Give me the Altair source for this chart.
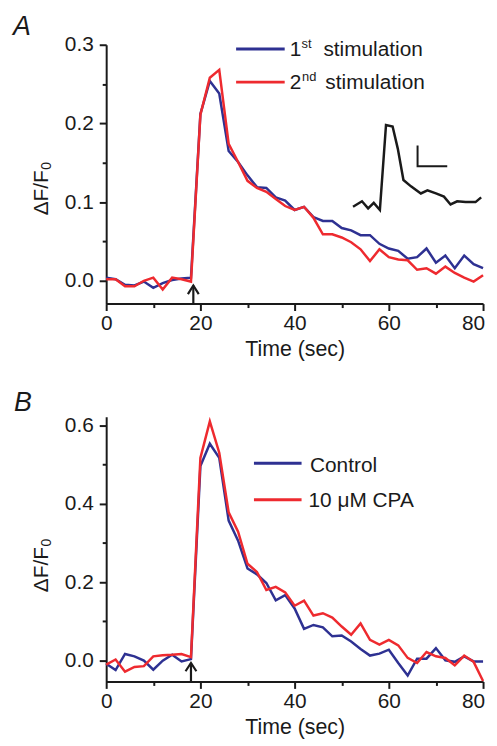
import altair as alt
import pandas as pd

# ---------------- data ----------------
time_s = list(range(0, 81, 2))

a_first = [0.004, 0.002, -0.005, -0.006, -0.001, -0.009, -0.003, 0.001, 0.003, 0.004,
           0.212, 0.254, 0.238, 0.165, 0.151, 0.134, 0.119, 0.118, 0.106, 0.102,
           0.090, 0.094, 0.081, 0.076, 0.076, 0.067, 0.064, 0.058, 0.058, 0.047,
           0.041, 0.038, 0.028, 0.030, 0.041, 0.023, 0.032, 0.016, 0.032, 0.021, 0.016]
a_second = [0.002, 0.002, -0.007, -0.007, 0.000, 0.004, -0.011, 0.004, 0.002, -0.001,
            0.211, 0.258, 0.268, 0.174, 0.151, 0.127, 0.118, 0.113, 0.104, 0.095,
            0.090, 0.094, 0.080, 0.059, 0.059, 0.055, 0.049, 0.040, 0.025, 0.040,
            0.030, 0.027, 0.026, 0.014, 0.016, 0.009, 0.018, 0.010, 0.004, -0.001, 0.007]
b_control = [-0.008, -0.024, 0.017, 0.011, 0.000, -0.023, 0.000, 0.015, -0.002, 0.004,
             0.496, 0.553, 0.517, 0.357, 0.306, 0.235, 0.220, 0.198, 0.154, 0.167,
             0.133, 0.081, 0.091, 0.085, 0.062, 0.064, 0.049, 0.030, 0.013, 0.018,
             0.028, -0.006, -0.038, 0.005, 0.005, 0.032, 0.001, -0.003, 0.011, -0.002, -0.002]
b_cpa = [-0.010, 0.003, -0.028, -0.016, -0.014, 0.011, 0.014, 0.015, 0.017, 0.009,
         0.517, 0.610, 0.530, 0.378, 0.329, 0.247, 0.226, 0.180, 0.188, 0.174,
         0.140, 0.153, 0.115, 0.121, 0.110, 0.087, 0.066, 0.095, 0.053, 0.041,
         0.053, 0.039, 0.007, -0.006, 0.022, 0.011, 0.007, -0.012, 0.013, -0.003, -0.052]

inset_t = [52.4, 54.3, 55.6, 56.8, 58.1, 59.4, 60.8, 61.9, 63.1, 64.7,
           66.8, 68.2, 70.0, 71.7, 73.1, 74.5, 76.3, 78.4, 79.6]
inset_v = [0.094, 0.101, 0.092, 0.099, 0.090, 0.198, 0.196, 0.168, 0.128, 0.120,
           0.111, 0.115, 0.111, 0.107, 0.097, 0.101, 0.100, 0.100, 0.106]
scalebar_t = [66.1, 66.1, 72.4]
scalebar_v = [0.172, 0.1456, 0.1456]

stim_a = 18.5
stim_b = 18.0

b_names = ["Control", "10 \u03bcM CPA"]

# ---------------- style ----------------
BLUE = "#2E3192"
RED = "#EE2A2F"
INK = "#1a1a1a"
FONT = "Liberation Sans"
FS = 21
W = 380
HA = 261
HB = 267
A_DOM = [-0.029, 0.3]
B_DOM = [-0.053, 0.622]
ONE = pd.DataFrame({"k": [0]})

x_axis = alt.Axis(
    values=list(range(0, 81, 10)),
    labelExpr="datum.value % 20 === 0 ? datum.label : ''",
    tickSize={"condition": {"test": "datum.value % 20 === 0", "value": 7}, "value": 4},
    labelOffset={"condition": {"test": "datum.value === 80", "value": -10}, "value": 0},
    title="Time (sec)", titleFont=FONT, titleFontSize=21.5, titleFontWeight="normal",
    titleColor=INK, titlePadding=5,
    labelFont=FONT, labelFontSize=FS, labelColor=INK, labelPadding=2,
    labelOverlap=False, labelFlush=False,
    domainColor=INK, domainWidth=2, tickColor=INK, tickWidth=2, grid=False,
)
x_enc = alt.X("t:Q", scale=alt.Scale(domain=[0, 80], nice=False, zero=False), axis=x_axis)


def y_axis(step_vals, major_test):
    return alt.Axis(
        values=step_vals, format=".1f",
        labelExpr=f"({major_test}) ? datum.label : ''",
        tickSize={"condition": {"test": major_test, "value": 7}, "value": 4},
        title=None,
        labelFont=FONT, labelFontSize=FS, labelColor=INK, labelPadding=6,
        labelOverlap=False, labelFlush=False,
        domainColor=INK, domainWidth=2, tickColor=INK, tickWidth=2, grid=False,
    )


ya_enc = alt.Y("v:Q", scale=alt.Scale(domain=A_DOM, nice=False, zero=False),
               axis=y_axis([round(i * 0.05, 2) for i in range(7)],
                           "abs(datum.value*10 - round(datum.value*10)) < 0.001"))
yb_enc = alt.Y("v:Q", scale=alt.Scale(domain=B_DOM, nice=False, zero=False),
               axis=y_axis([round(i * 0.1, 1) for i in range(7)],
                           "abs(datum.value*5 - round(datum.value*5)) < 0.001"))


def series(ts, vs, color, yenc, width=2.5):
    df = pd.DataFrame({"t": ts, "v": vs, "o": list(range(len(ts)))})
    return alt.Chart(df).mark_line(color=color, strokeWidth=width).encode(
        x=x_enc, y=yenc, order="o:Q")


def arrow(t0, ymin, tip, arm_t, arm_v, yenc):
    df = pd.DataFrame({
        "t": [t0, t0, t0 - arm_t, t0, t0 + arm_t],
        "v": [ymin, tip, tip - arm_v, tip, tip - arm_v],
        "part": ["shaft", "shaft", "head", "head", "head"],
        "o": [0, 1, 0, 1, 2],
    })
    return alt.Chart(df).mark_line(color=INK, strokeWidth=2.2).encode(
        x=x_enc, y=yenc, detail="part:N", order="o:Q")


def txt(text, x, y, size, **kw):
    return alt.Chart(ONE).mark_text(
        text=text, font=FONT, fontSize=size, color=INK, align="left",
        baseline="alphabetic", **kw).encode(x=alt.value(x), y=alt.value(y))


def leg_line(color, x1, x2, y):
    return alt.Chart(ONE).mark_rule(color=color, strokeWidth=3).encode(
        x=alt.value(x1), x2=alt.value(x2), y=alt.value(y))


panel_a = alt.layer(
    series(time_s, a_first, BLUE, ya_enc),
    series(time_s, a_second, RED, ya_enc),
    series(inset_t, inset_v, INK, ya_enc, 2.5),
    series(scalebar_t, scalebar_v, INK, ya_enc, 2),
    arrow(stim_a, A_DOM[0], -0.006, 1.15, 0.011, ya_enc),
    leg_line(BLUE, 131, 180, 4.3),
    leg_line(RED, 131, 180, 37.7),
    txt("1", 185, 11.7, FS),
    txt("st", 197, 3.3, 13),
    txt("stimulation", 219, 11.7, FS),
    txt("2", 185, 45, FS),
    txt("nd", 197.5, 36.7, 13),
    txt("stimulation", 221, 45, FS),
    txt("A", -94, -10, 27, fontStyle="italic"),
    txt("\u0394F/F", -59, 172, FS, angle=270),
    txt("0", -56, 126, 14, angle=270),
).properties(width=W, height=HA)

panel_b = alt.layer(
    series(time_s, b_control, BLUE, yb_enc),
    series(time_s, b_cpa, RED, yb_enc),
    arrow(stim_b, B_DOM[0], -0.006, 1.15, 0.021, yb_enc),
    leg_line(BLUE, 149, 197, 47),
    leg_line(RED, 149, 197, 83.7),
    txt(b_names[0], 205.5, 56.3, FS),
    txt(b_names[1], 204, 91.3, FS),
    txt("B", -93, -6, 27, fontStyle="italic"),
    txt("\u0394F/F", -59, 177, FS, angle=270),
    txt("0", -56, 131, 14, angle=270),
).properties(width=W, height=HB)

chart = alt.vconcat(panel_a, panel_b, spacing=114, bounds="flush").properties(
    padding={"left": 4, "top": 1, "right": 0, "bottom": 0},
    background="white",
).configure_view(stroke="transparent")

chart.save("out.html", embed_options={"renderer": "svg", "actions": False})
